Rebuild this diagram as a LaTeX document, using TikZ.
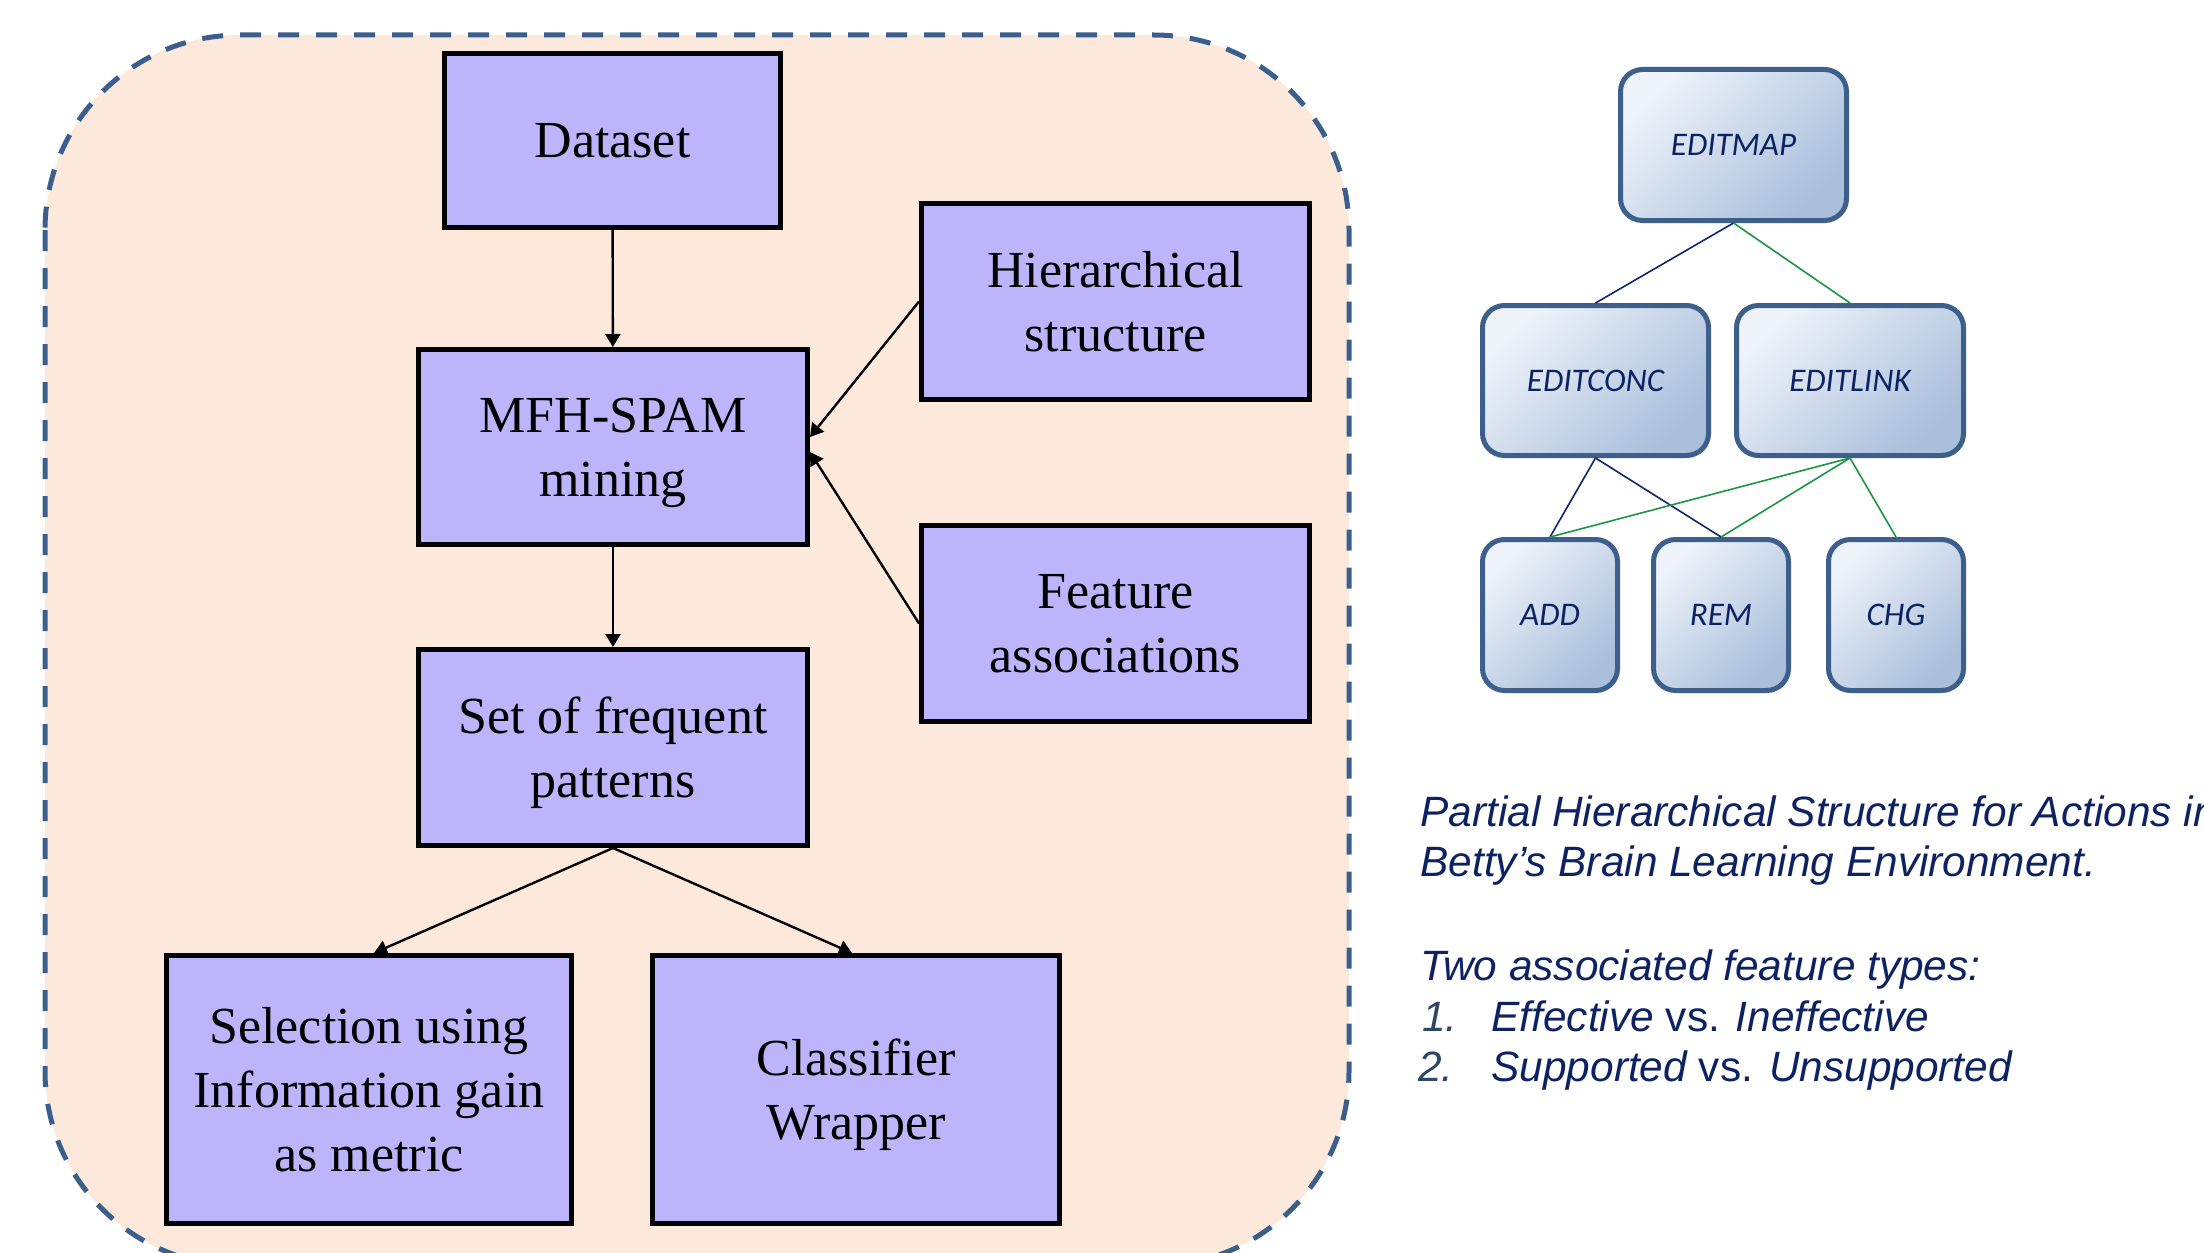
\documentclass[tikz,border=0pt]{standalone}
\usepackage{fontspec}
\setmainfont{Liberation Serif}
\newfontfamily\calibrifam{Carlito}
\newfontfamily\arialfam{Liberation Sans}
\usetikzlibrary{arrows.meta,calc}

\definecolor{framefill}{HTML}{FCE9DB}
\definecolor{framedash}{HTML}{3A5F8C}
\definecolor{flowfill}{HTML}{BDB5FC}
\definecolor{treeedge}{HTML}{3D5F8C}
\definecolor{treelight}{HTML}{EEF3FA}
\definecolor{treemid}{HTML}{CBD8EA}
\definecolor{treedark}{HTML}{A9BFDC}
\definecolor{navytext}{HTML}{0D2262}
\definecolor{navyline}{HTML}{10256B}
\definecolor{greenline}{HTML}{1A9641}
\definecolor{numgray}{HTML}{2E4766}

\begin{document}
\begin{tikzpicture}[x=0.5pt,y=-0.5pt,
  flowbox/.style={draw=black, line width=2.5pt, fill=flowfill, align=center,
    inner sep=0pt, text depth=-3pt, font=\fontsize{26}{32}\selectfont},
  flowarrow/.style={line width=1.2pt, -{Triangle[length=6.5pt,width=7.5pt]}},
  treebox/.style={draw=treeedge, line width=2.5pt, rounded corners=11pt,
    top color=treelight, bottom color=treedark, middle color=treemid,
    shading angle=45, inner sep=0pt, text=navytext,
    font=\calibrifam\itshape\fontsize{16.5}{20}\selectfont},
  conc/.style={draw=navyline, line width=0.8pt},
  link/.style={draw=greenline, line width=0.8pt},
  note/.style={anchor=base west, inner sep=0pt, text=navytext,
    font=\arialfam\itshape\fontsize{21.2}{26}\selectfont},
  numlabel/.style={note, text=numgray}
]
\useasboundingbox (0,0) rectangle (2204,1252);
\clip (0,0) rectangle (2204,1252);

% process frame
\draw[fill=framefill, draw=framedash, line width=2.5pt,
  dash pattern=on 10.5pt off 8.5pt, rounded corners=97.5pt]
  (45,35) rectangle (1349,1266);

% mining pipeline
\node[flowbox, minimum width=168pt, minimum height=87pt] (data) at (612.5,140.5) {Dataset};
\node[flowbox, minimum width=194.5pt, minimum height=97.5pt] (mfh) at (613,447) {MFH-SPAM\\mining};
\node[flowbox, minimum width=194pt, minimum height=98pt] (hier) at (1115.5,301.5) {Hierarchical\\structure};
\node[flowbox, minimum width=194pt, minimum height=98pt] (feat) at (1115.5,623.5) {Feature\\associations};
\node[flowbox, minimum width=194.5pt, minimum height=98pt] (freq) at (613,747.5) {Set of frequent\\patterns};
\node[flowbox, minimum width=202.5pt, minimum height=134pt] (sel) at (369,1089.5) {Selection using\\Information gain\\as metric};
\node[flowbox, minimum width=203.5pt, minimum height=134pt] (clf) at (856,1089.5) {Classifier\\Wrapper};

\draw[flowarrow] (data) -- (mfh);
\draw[flowarrow] (mfh) -- (freq);
\draw[flowarrow] (hier.west) -- ($(mfh.east)+(0,-10)$);
\draw[flowarrow] (feat.west) -- ($(mfh.east)+(0,5)$);
\draw[flowarrow] (freq.south) -- ($(sel.north)+(5,0)$);
\draw[flowarrow] (freq.south) -- ($(clf.north)+(-4,0)$);

% action hierarchy
\node[treebox, minimum width=113pt, minimum height=75.5pt] (emap) at (1733.5,145) {EDITMAP};
\node[treebox, minimum width=113pt, minimum height=75pt] (econc) at (1595.5,380.5) {EDITCONC};
\node[treebox, minimum width=113.5pt, minimum height=75pt] (elink) at (1850,380.5) {EDITLINK};
\node[treebox, minimum width=67.5pt, minimum height=75.5pt] (add) at (1550,615) {ADD};
\node[treebox, minimum width=67.5pt, minimum height=75.5pt] (rem) at (1721,615) {REM};
\node[treebox, minimum width=67.5pt, minimum height=75.5pt] (chg) at (1896,615) {CHG};

\draw[conc] (emap.south) -- (econc.north);
\draw[link] (emap.south) -- (elink.north);
\draw[conc] (econc.south) -- (add.north);
\draw[conc] (econc.south) -- (rem.north);
\draw[link] (elink.south) -- (add.north);
\draw[link] (elink.south) -- (rem.north);
\draw[link] (elink.south) -- (chg.north);

% caption and feature types
\node[note] (cap1) at (1420,826) {Partial Hierarchical Structure for Actions in};
\node[note] (cap2) at (1420,876) {Betty’s Brain Learning Environment.};
\node[note] (types) at (1420,980) {Two associated feature types:};
\node[numlabel] (n1) at (1422,1031) {1.};
\node[note] (t1) at (1491,1031) {Effective {\upshape vs.} Ineffective};
\node[numlabel] (n2) at (1418,1081) {2.};
\node[note] (t2) at (1491,1081) {Supported {\upshape vs.}\hspace{8pt}Unsupported};
\end{tikzpicture}
\end{document}
